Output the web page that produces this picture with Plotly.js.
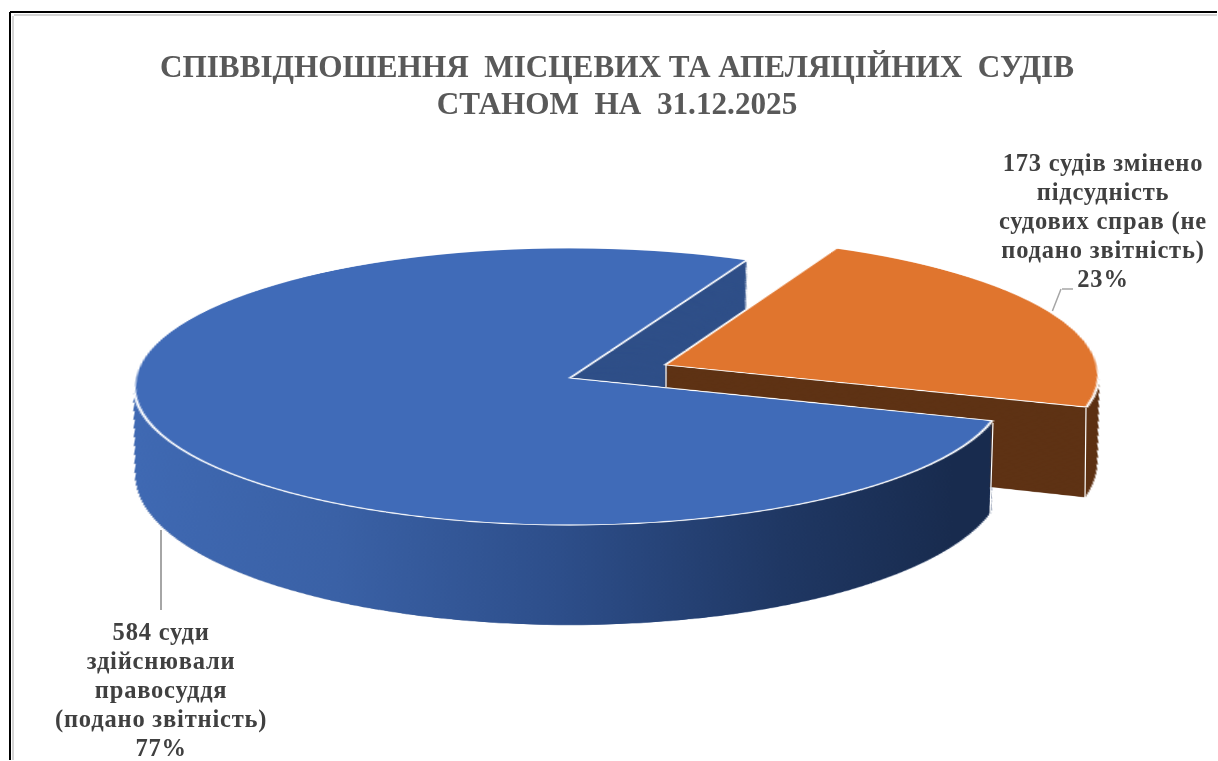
<!DOCTYPE html>
<html><head><meta charset="utf-8">
<script src="https://cdn.plot.ly/plotly-3.0.1.min.js"></script>
<style>html,body{margin:0;padding:0;background:#fff;overflow:hidden}#chart{width:1218px;height:761px}
.annotation-text{letter-spacing:.8px}</style>
</head><body><div id="chart"></div>
<script>
const sliceNames = ["584 суди<br>здійснювали<br>правосуддя<br>(подано звітність)<br>77%",
                    "173 судів змінено<br>підсудність<br>судових справ (не<br>подано звітність)<br>23%"];
const sliceValues = [584, 173];
const slicePull = [0, 0.24];
const titleText = "СПІВВІДНОШЕННЯ&nbsp; МІСЦЕВИХ ТА АПЕЛЯЦІЙНИХ&nbsp; СУДІВ<br>СТАНОМ&nbsp; НА&nbsp; 31.12.2025";

const W = 1218, H = 761;
const startAngle = 107.7, N = 70;
const BLUE='#406BB8', ORANGE='#E0752E', BROWN='#5E3214', CUT='#2F4F88', NONE='rgba(0,0,0,0)';
// projective view of the pie plane
const apexX=570, apexY=378, rx=435, ky=138, persp=0.0613, depth=0.613;

function layer(colors, lineW){
  return {type:'pie', labels:sliceNames, values:sliceValues, pull:slicePull, sort:false,
    direction:'clockwise', rotation:startAngle, textinfo:'none', hoverinfo:'skip', showlegend:false,
    domain:{x:[0,1],y:[0.2,1]},
    marker:{colors:colors, line:{color:'#ffffff', width:lineW}}};
}
const traces=[], depths=[];
for(let i=N;i>=1;i--){traces.push(layer([CUT,NONE],[0,0]));depths.push(i/N);}
for(let i=N;i>=1;i--){traces.push(layer([NONE,BROWN],[0,0]));depths.push(i/N);}
const frontStart=traces.length;
for(let i=N;i>=1;i--){traces.push(layer([BLUE,NONE],[0,0]));depths.push(i/N);}
const frontEnd=traces.length;
traces.push(layer([BLUE,NONE],[1.7,0]));depths.push(0);
traces.push(layer([NONE,ORANGE],[0,1.7]));depths.push(0);

function line(x1,y1,x2,y2,color,w){
  return {xref:'paper',yref:'paper',x:x2/W,y:1-y2/H,ax:x1-x2,ay:y1-y2,text:' ',font:{size:1},
    showarrow:true,arrowhead:0,arrowwidth:w,arrowcolor:color,standoff:0,startstandoff:0,borderpad:0};
}
function label(text,x,y){
  return {xref:'paper',yref:'paper',x:x/W,y:1-y/H,text:text,showarrow:false,align:'center',
    xanchor:'center',yanchor:'middle',font:{family:'Liberation Serif',size:24.5,color:'#404040',weight:'bold'}};
}
const annotations=[
  line(10,11,10,761,'#000',2), line(9,12,1218,12,'#000',2),
  line(13,15,13,761,'#d4d4d4',2), line(13,15,1218,15,'#d4d4d4',2),
  line(161,529,161,610,'#A6A6A6',2),
  line(1052,312,1061,289,'#A6A6A6',1.5), line(1061,289,1073,289,'#A6A6A6',1.5),
  line(993,422,990,516,'#ffffff',1.2), line(1086,407,1085,500,'#ffffff',1.2), line(666,364,666,387,'#ffffff',1.2),
  label(sliceNames[1],1103,220), label(sliceNames[0],161,689)
];
const layout={width:W,height:H,margin:{l:0,r:0,t:0,b:0},paper_bgcolor:'#fff',showlegend:false,
  title:{text:titleText,x:617/W,xanchor:'center',y:1-75/H,yanchor:'top',
    font:{family:'Liberation Serif',size:31.2,color:'#595959',weight:'bold'}},
  annotations:annotations};

function setPitch(textEl,pitch){
  const ls=[...textEl.querySelectorAll('tspan.line')]; if(ls.length<2) return;
  const fs=parseFloat(getComputedStyle(textEl).fontSize);
  const y0=+(ls[0].getAttribute('y')||textEl.getAttribute('y'));
  const start=y0+(1.3*fs-pitch)*(ls.length-1)/2;
  ls.forEach((t,i)=>{t.setAttribute('dy','0');t.setAttribute('y',start+i*pitch);});
}
const gd=document.getElementById('chart');
Plotly.newPlot(gd,traces,layout,{staticPlot:true,displayModeBar:false}).then(()=>{
  const c=gd.calcdata[0][0], cx=c.cx, cy=c.cy, r=c.r;
  const pl=gd.querySelector('.pielayer'), svg=pl.ownerSVGElement, NS='http://www.w3.org/2000/svg';
  const nodes=[...pl.querySelectorAll('g.trace')];
  let defs=svg.querySelector('defs'); 
  const grad=document.createElementNS(NS,'linearGradient'); grad.id='rimGrad';
  [[0,'#3F69B3'],[0.25,'#3A61A6'],[0.5,'#2D4E8A'],[0.75,'#1F3763'],[0.95,'#182B4E'],[1,'#182B4E']].forEach(s=>{
    const st=document.createElementNS(NS,'stop'); st.setAttribute('offset',s[0]); st.setAttribute('stop-color',s[1]); grad.appendChild(st);});
  defs.appendChild(grad);
  const th=startAngle*Math.PI/180, tipX=cx+r*Math.sin(th), tipY=cy-r*Math.cos(th);
  const cp=document.createElementNS(NS,'clipPath'); cp.id='frontClip';
  const poly=document.createElementNS(NS,'polygon');
  poly.setAttribute('points',[[cx,cy],[tipX,tipY],[tipX,H],[0,H],[0,cy]].map(p=>p.join(',')).join(' '));
  cp.appendChild(poly); defs.appendChild(cp);
  const front=document.createElementNS(NS,'g'); front.setAttribute('clip-path','url(#frontClip)');
  nodes[frontEnd].parentNode.insertBefore(front,nodes[frontEnd]);
  nodes.forEach((n,i)=>{
    const d=depths[i];
    if(d){
      const f=1-persp*depth*d*1.1;
      n.setAttribute('transform','translate('+(cx*(1-f))+','+(d*depth*r)+') scale('+f+',1)');
    }
    if(i>=frontStart&&i<frontEnd){
      n.querySelector('path.surface').style.fill='url(#rimGrad)';
      front.appendChild(n);
    }
  });
  // homography of the pie plane into the view
  const a=persp/r;
  const h=[[rx/r, -apexX*a, apexX+apexX*a*cy-rx*cx/r],
           [0, ky/r-apexY*a, apexY+apexY*a*cy-ky*cy/r],
           [0, -a, 1+a*cy]];
  svg.style.transformOrigin='0 0';
  svg.style.overflow='visible';
  svg.style.background='transparent';
  svg.style.transform='matrix3d('+[h[0][0],h[1][0],0,h[2][0], h[0][1],h[1][1],0,h[2][1], 0,0,1,0, h[0][2],h[1][2],0,h[2][2]].join(',')+')';
  // line spacing of the multi-line texts
  const tt=gd.querySelector('.gtitle'); if(tt) setPitch(tt,37);
  gd.querySelectorAll('text.annotation-text').forEach(t=>setPitch(t,29));
});
</script></body></html>
